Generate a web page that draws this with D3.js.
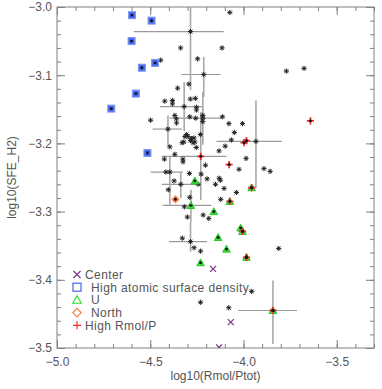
<!DOCTYPE html>
<html>
<head>
<meta charset="utf-8">
<script src="https://cdn.jsdelivr.net/npm/d3@7"></script>
<style>
  body { margin: 0; background: #fff; }
  svg text { font-family: "Liberation Sans", Arial, sans-serif; fill: #555; }
</style>
</head>
<body>
<svg id="chart" width="382" height="389"></svg>
<script>
// main sample (black asterisks)
const sampleX = [-4.073,-4.284,-4.337,-4.115,-4.246,-4.444,-4.213,-3.770,-3.675,-4.293,-4.353,-4.285,-4.258,-4.422,-4.381,-4.381,-4.318,-4.252,-4.252,-4.368,-4.360,-4.359,-4.288,-4.256,-4.218,-4.218,-4.218,-4.498,-4.113,-4.078,-4.005,-4.049,-4.405,-4.305,-4.314,-4.297,-4.279,-4.284,-4.270,-4.320,-4.329,-4.265,-4.261,-4.231,-4.253,-4.065,-3.933,-4.098,-4.131,-4.395,-4.368,-4.424,-4.325,-4.324,-3.986,-4.204,-4.024,-3.890,-3.857,-4.416,-4.395,-4.290,-4.227,-4.195,-4.130,-4.124,-4.372,-4.336,-4.243,-4.150,-4.104,-4.038,-4.403,-4.288,-4.122,-4.317,-4.301,-4.216,-4.186,-4.328,-4.284,-4.265,-4.230,-3.811,-3.956,-4.230,-4.079];
const sampleY = [-3.008,-3.036,-3.060,-3.060,-3.076,-3.078,-3.099,-3.094,-3.090,-3.113,-3.119,-3.135,-3.134,-3.138,-3.137,-3.142,-3.146,-3.147,-3.151,-3.159,-3.164,-3.170,-3.161,-3.163,-3.159,-3.163,-3.168,-3.166,-3.161,-3.171,-3.171,-3.184,-3.179,-3.187,-3.190,-3.190,-3.193,-3.196,-3.199,-3.198,-3.199,-3.192,-3.198,-3.187,-3.206,-3.195,-3.197,-3.204,-3.211,-3.205,-3.216,-3.223,-3.223,-3.227,-3.222,-3.232,-3.238,-3.237,-3.241,-3.242,-3.242,-3.244,-3.245,-3.252,-3.251,-3.254,-3.255,-3.260,-3.260,-3.260,-3.266,-3.272,-3.268,-3.279,-3.282,-3.293,-3.308,-3.305,-3.310,-3.339,-3.344,-3.353,-3.358,-3.354,-3.417,-3.433,-3.441];

// subsets
const centerX = [-4.163, -4.068, -4.131];
const centerY = [-3.384, -3.462, -3.499];
const atomicX = [-4.598, -4.493, -4.600, -4.474, -4.545, -4.577, -4.709, -4.515];
const atomicY = [-3.012, -3.020, -3.050, -3.082, -3.089, -3.127, -3.149, -3.214];
const uX = [-4.261, -4.282, -4.159, -4.136, -4.091, -4.230, -4.015, -4.005, -3.956, -4.073, -3.984, -3.842];
const uY = [-3.255, -3.291, -3.300, -3.338, -3.355, -3.375, -3.324, -3.329, -3.265, -3.285, -3.367, -3.445];
const northX = [-4.365];
const northY = [-3.282];
const rmolX = [-4.229, -4.077, -3.997, -3.984, -3.641, -4.005, -3.956, -4.073, -3.984, -3.842];
const rmolY = [-3.219, -3.231, -3.199, -3.196, -3.167, -3.329, -3.265, -3.285, -3.367, -3.445];

// error bars: centre, x extent, y extent
const errCx  = [-4.284, -4.213, -4.318, -4.218, -4.229, -4.405, -3.933, -4.395, -4.336, -4.282, -4.284, -3.842];
const errCy  = [-3.036, -3.099, -3.146, -3.163, -3.219, -3.179, -3.197, -3.242, -3.260, -3.291, -3.344, -3.445];
const errXlo = [-4.588, -4.332, -4.448, -4.395, -4.438, -4.487, -4.145, -4.498, -4.438, -4.434, -4.399, -4.029];
const errXhi = [-4.106, -4.122, -4.218, -4.111, -4.090, -4.330, -3.795, -4.325, -4.234, -4.172, -4.195, -3.713];
const errYlo = [-3.122, -3.132, -3.182, -3.202, -3.283, -3.203, -3.265, -3.290, -3.280, -3.315, -3.359, -3.494];
const errYhi = [-2.950, -3.073, -3.110, -3.125, -3.154, -3.159, -3.137, -3.220, -3.242, -3.268, -3.315, -3.401];

const xMajor = [-5.0, -4.5, -4.0, -3.5];
const yMajor = [-3.5, -3.4, -3.3, -3.2, -3.1, -3.0];
const legendLabels = ["Center", "High atomic surface density", "U", "North", "High Rmol/P"];
const legendColors = ["#7a3388", "#3f66f0", "#33dd33", "#ff7a40", "#f03030"];

const svg = d3.select("#chart");
const mLeft = 57, mRight = 374, mTop = 7, mBottom = 348;

const x = d3.scaleLinear().domain([-5.0, -3.3]).range([mLeft, mRight]);
const y = d3.scaleLinear().domain([-3.5, -3.0]).range([mBottom, mTop]);

const axisColor = "#808080";

svg.append("defs").append("clipPath").attr("id", "plotclip")
  .append("rect").attr("x", mLeft).attr("y", mTop)
  .attr("width", mRight - mLeft).attr("height", mBottom - mTop);

// frame
svg.append("rect")
  .attr("x", mLeft).attr("y", mTop)
  .attr("width", mRight - mLeft).attr("height", mBottom - mTop)
  .attr("fill", "none").attr("stroke", axisColor).attr("stroke-width", 1);

function styleAxis(g) {
  g.select(".domain").remove();
  g.selectAll(".tick line").attr("stroke", axisColor);
  g.selectAll(".tick text").attr("fill", "#555").style("font-size", "12px")
    .style("font-family", "Liberation Sans, Arial, sans-serif");
}

const xMinor = d3.range(-5.0, -3.29, 0.1).map(v => +v.toFixed(2));
const yMinor = d3.range(-3.5, -2.999, 0.02).map(v => +v.toFixed(2));
const fmt = d => d3.format(".1f")(d);

// bottom
svg.append("g").attr("transform", `translate(0,${mBottom})`)
  .call(d3.axisBottom(x).tickValues(xMinor).tickSize(-4).tickFormat(""))
  .call(styleAxis);
svg.append("g").attr("transform", `translate(0,${mBottom})`)
  .call(d3.axisBottom(x).tickValues(xMajor).tickSize(-8).tickPadding(9).tickFormat(fmt))
  .call(styleAxis);
// top
svg.append("g").attr("transform", `translate(0,${mTop})`)
  .call(d3.axisTop(x).tickValues(xMinor).tickSize(-4).tickFormat(""))
  .call(styleAxis);
svg.append("g").attr("transform", `translate(0,${mTop})`)
  .call(d3.axisTop(x).tickValues(xMajor).tickSize(-8).tickFormat(""))
  .call(styleAxis);
// left
svg.append("g").attr("transform", `translate(${mLeft},0)`)
  .call(d3.axisLeft(y).tickValues(yMinor).tickSize(-4).tickFormat(""))
  .call(styleAxis);
svg.append("g").attr("transform", `translate(${mLeft},0)`)
  .call(d3.axisLeft(y).tickValues(yMajor).tickSize(-8).tickPadding(5).tickFormat(fmt))
  .call(styleAxis);
// right
svg.append("g").attr("transform", `translate(${mRight},0)`)
  .call(d3.axisRight(y).tickValues(yMinor).tickSize(-4).tickFormat(""))
  .call(styleAxis);
svg.append("g").attr("transform", `translate(${mRight},0)`)
  .call(d3.axisRight(y).tickValues(yMajor).tickSize(-8).tickFormat(""))
  .call(styleAxis);

// axis titles
svg.append("text")
  .attr("x", (mLeft + mRight) / 2).attr("y", 380)
  .attr("text-anchor", "middle").style("font-size", "12px")
  .text("log10(Rmol/Ptot)");
svg.append("text")
  .attr("transform", "rotate(-90)")
  .attr("x", -(mTop + mBottom) / 2).attr("y", 16)
  .attr("text-anchor", "middle").style("font-size", "12px")
  .text("log10(SFE_H2)");

const plot = svg.append("g").attr("clip-path", "url(#plotclip)");

// error bars
const errIdx = d3.range(errCx.length);
plot.selectAll(".eh").data(errIdx).enter().append("line")
  .attr("x1", i => x(errXlo[i])).attr("x2", i => x(errXhi[i]))
  .attr("y1", i => y(errCy[i])).attr("y2", i => y(errCy[i]))
  .attr("stroke", "#9a9a9a").attr("stroke-width", 1.2);
plot.selectAll(".ev").data(errIdx).enter().append("line")
  .attr("x1", i => x(errCx[i])).attr("x2", i => x(errCx[i]))
  .attr("y1", i => y(errYlo[i])).attr("y2", i => y(errYhi[i]))
  .attr("stroke", "#a8a8a8").attr("stroke-width", 1.6);

function star(r) {
  const d = r * 0.72;
  return `M${-r},0H${r}M0,${-r}V${r}M${-d},${-d}L${d},${d}M${-d},${d}L${d},${-d}`;
}
function cross(r) { return `M${-r},${-r}L${r},${r}M${-r},${r}L${r},${-r}`; }
function plus(r) { return `M${-r},0H${r}M0,${-r}V${r}`; }
function tri(r) { return `M0,${-r}L${r},${r * 0.8}L${-r},${r * 0.8}Z`; }
function diamond(r) { return `M0,${-r}L${r},0L0,${r}L${-r},0Z`; }

function pts(xs, ys) { return xs.map((v, i) => [v, ys[i]]); }

// sample stars
plot.selectAll(".s").data(pts(sampleX, sampleY)).enter().append("path")
  .attr("transform", d => `translate(${x(d[0])},${y(d[1])})`)
  .attr("d", star(2.6)).attr("fill", "none")
  .attr("stroke", "#222").attr("stroke-width", 1);

// U (green)
plot.selectAll(".u").data(pts(uX, uY)).enter().append("path")
  .attr("transform", d => `translate(${x(d[0])},${y(d[1])})`)
  .attr("d", tri(3.8)).attr("fill", "#44dd44").attr("stroke", "#22cc22").attr("stroke-width", 1);

// atomic (blue squares)
plot.selectAll(".a").data(pts(atomicX, atomicY)).enter().append("rect")
  .attr("x", d => x(d[0]) - 3.5).attr("y", d => y(d[1]) - 3.5)
  .attr("width", 7).attr("height", 7)
  .attr("fill", "#4a6cf0").attr("stroke", "#7f98f5").attr("stroke-width", 1);

// north (orange)
plot.selectAll(".n").data(pts(northX, northY)).enter().append("path")
  .attr("transform", d => `translate(${x(d[0])},${y(d[1])})`)
  .attr("d", diamond(3.8)).attr("fill", "#ff7a40").attr("stroke", "#ff9a70");

// high Rmol/P (red)
plot.selectAll(".r").data(pts(rmolX, rmolY)).enter().append("path")
  .attr("transform", d => `translate(${x(d[0])},${y(d[1])})`)
  .attr("d", plus(3.6)).attr("fill", "none").attr("stroke", "#f03030").attr("stroke-width", 1.8);

// black centres on the coloured subsets
const coloured = pts(atomicX, atomicY).concat(pts(uX, uY), pts(northX, northY), pts(rmolX, rmolY));
plot.selectAll(".c").data(coloured).enter().append("path")
  .attr("transform", d => `translate(${x(d[0])},${y(d[1])})`)
  .attr("d", star(1.5)).attr("fill", "none").attr("stroke", "#111").attr("stroke-width", 1);

// center (purple x)
plot.selectAll(".ce").data(pts(centerX, centerY)).enter().append("path")
  .attr("transform", d => `translate(${x(d[0])},${y(d[1])})`)
  .attr("d", cross(3)).attr("fill", "none").attr("stroke", "#7a3388").attr("stroke-width", 1.2);

// legend
const legendShapes = [cross(3.5), "sq", tri(4.2), diamond(4.2), plus(4)];
const legendTextX = [85, 91, 91, 91, 85];
const lg = svg.append("g");
legendLabels.forEach((lab, i) => {
  const ly = 274.5 + i * 12.7;
  if (legendShapes[i] === "sq") {
    lg.append("rect").attr("x", 77 - 4).attr("y", ly - 4).attr("width", 8).attr("height", 8)
      .attr("fill", "none").attr("stroke", legendColors[i]).attr("stroke-width", 1.2);
  } else {
    lg.append("path").attr("transform", `translate(77,${ly})`).attr("d", legendShapes[i])
      .attr("fill", "none").attr("stroke", legendColors[i]).attr("stroke-width", 1.2);
  }
  lg.append("text").attr("x", legendTextX[i]).attr("y", ly + 4.3)
    .style("font-size", "12px").style("letter-spacing", "0.4px").text(lab);
});
</script>
</body>
</html>
